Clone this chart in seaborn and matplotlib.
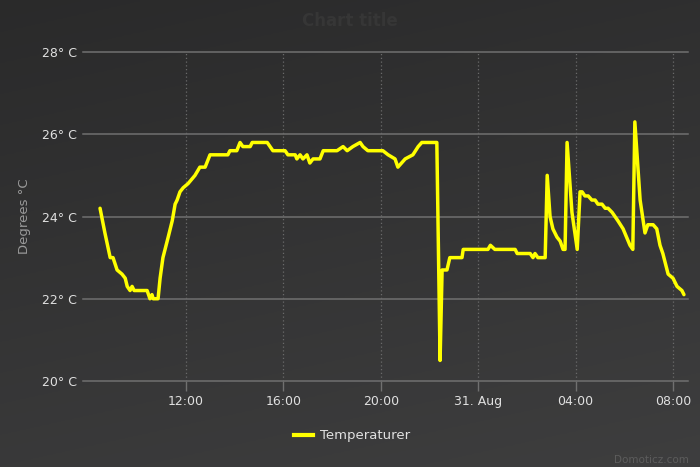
import numpy as np
import pandas as pd
import matplotlib
matplotlib.use("Agg")
import matplotlib.pyplot as plt
import seaborn as sns
from matplotlib.lines import Line2D

# ---------------- data ----------------
times = [
    "2024-08-30 08:28", "2024-08-30 08:40", "2024-08-30 08:53", "2024-08-30 09:00",
    "2024-08-30 09:10", "2024-08-30 09:22", "2024-08-30 09:30", "2024-08-30 09:35",
    "2024-08-30 09:42", "2024-08-30 09:47", "2024-08-30 09:52", "2024-08-30 10:24",
    "2024-08-30 10:31", "2024-08-30 10:36", "2024-08-30 10:39", "2024-08-30 10:51",
    "2024-08-30 10:56", "2024-08-30 11:03", "2024-08-30 11:16", "2024-08-30 11:26",
    "2024-08-30 11:33", "2024-08-30 11:38", "2024-08-30 11:45", "2024-08-30 11:53",
    "2024-08-30 12:05", "2024-08-30 12:22", "2024-08-30 12:34", "2024-08-30 12:47",
    "2024-08-30 12:59", "2024-08-30 13:43", "2024-08-30 13:48", "2024-08-30 14:05",
    "2024-08-30 14:13", "2024-08-30 14:20", "2024-08-30 14:38", "2024-08-30 14:43",
    "2024-08-30 15:20", "2024-08-30 15:27", "2024-08-30 15:34", "2024-08-30 16:04",
    "2024-08-30 16:11", "2024-08-30 16:29", "2024-08-30 16:33", "2024-08-30 16:41",
    "2024-08-30 16:48", "2024-08-30 16:58", "2024-08-30 17:05", "2024-08-30 17:13",
    "2024-08-30 17:30", "2024-08-30 17:38", "2024-08-30 18:12", "2024-08-30 18:27",
    "2024-08-30 18:37", "2024-08-30 18:51", "2024-08-30 19:09", "2024-08-30 19:16",
    "2024-08-30 19:28", "2024-08-30 20:05", "2024-08-30 20:18", "2024-08-30 20:35",
    "2024-08-30 20:42", "2024-08-30 21:00", "2024-08-30 21:19", "2024-08-30 21:32",
    "2024-08-30 21:41", "2024-08-30 22:18", "2024-08-30 22:26", "2024-08-30 22:31",
    "2024-08-30 22:43", "2024-08-30 22:50", "2024-08-30 23:20", "2024-08-30 23:23",
    "2024-08-31 00:24", "2024-08-31 00:30", "2024-08-31 00:41", "2024-08-31 01:31",
    "2024-08-31 01:36", "2024-08-31 02:08", "2024-08-31 02:15", "2024-08-31 02:20",
    "2024-08-31 02:27", "2024-08-31 02:45", "2024-08-31 02:50", "2024-08-31 02:57",
    "2024-08-31 03:04", "2024-08-31 03:14", "2024-08-31 03:22", "2024-08-31 03:29",
    "2024-08-31 03:34", "2024-08-31 03:39", "2024-08-31 03:51", "2024-08-31 04:04",
    "2024-08-31 04:11", "2024-08-31 04:16", "2024-08-31 04:23", "2024-08-31 04:31",
    "2024-08-31 04:40", "2024-08-31 04:48", "2024-08-31 04:55", "2024-08-31 05:05",
    "2024-08-31 05:13", "2024-08-31 05:20", "2024-08-31 05:30", "2024-08-31 05:44",
    "2024-08-31 05:57", "2024-08-31 06:14", "2024-08-31 06:21", "2024-08-31 06:26",
    "2024-08-31 06:39", "2024-08-31 06:51", "2024-08-31 06:58", "2024-08-31 07:11",
    "2024-08-31 07:20", "2024-08-31 07:28", "2024-08-31 07:35", "2024-08-31 07:48",
    "2024-08-31 08:00", "2024-08-31 08:10", "2024-08-31 08:22", "2024-08-31 08:27",
]
temps = [
    24.2, 23.6, 23.0, 23.0,
    22.7, 22.6, 22.5, 22.3,
    22.2, 22.3, 22.2, 22.2,
    22.0, 22.1, 22.0, 22.0,
    22.5, 23.0, 23.5, 23.9,
    24.3, 24.4, 24.6, 24.7,
    24.8, 25.0, 25.2, 25.2,
    25.5, 25.5, 25.6, 25.6,
    25.8, 25.7, 25.7, 25.8,
    25.8, 25.7, 25.6, 25.6,
    25.5, 25.5, 25.4, 25.5,
    25.4, 25.5, 25.3, 25.4,
    25.4, 25.6, 25.6, 25.7,
    25.6, 25.7, 25.8, 25.7,
    25.6, 25.6, 25.5, 25.4,
    25.2, 25.4, 25.5, 25.7,
    25.8, 25.8, 20.5, 22.7,
    22.7, 23.0, 23.0, 23.2,
    23.2, 23.3, 23.2, 23.2,
    23.1, 23.1, 23.0, 23.1,
    23.0, 23.0, 25.0, 24.0,
    23.7, 23.5, 23.4, 23.2,
    23.2, 25.8, 24.1, 23.2,
    24.6, 24.6, 24.5, 24.5,
    24.4, 24.4, 24.3, 24.3,
    24.2, 24.2, 24.1, 23.9,
    23.7, 23.3, 23.2, 26.3,
    24.4, 23.6, 23.8, 23.8,
    23.7, 23.3, 23.1, 22.6,
    22.5, 22.3, 22.2, 22.1,
]
series_name = "Temperaturer"
tick_times = ["2024-08-30 12:00", "2024-08-30 16:00", "2024-08-30 20:00",
              "2024-08-31 00:00", "2024-08-31 04:00", "2024-08-31 08:00"]
tick_labels = ["12:00", "16:00", "20:00", "31. Aug", "04:00", "08:00"]
y_ticks = [20, 22, 24, 26, 28]
y_tick_labels = ["20° C", "22° C", "24° C", "26° C", "28° C"]

df = pd.DataFrame({"time": pd.to_datetime(times), "temp": temps})

# ---------------- figure ----------------
W, H = 700, 467
fig = plt.figure(figsize=(W / 100, H / 100), dpi=100)

# gradient background
bg = fig.add_axes([0, 0, 1, 1], zorder=-10)
v = np.linspace(0, 1, 200)[:, None]
h = np.linspace(0, 1, 300)[None, :]
val = (42 + 15 * v + 5 * h) / 255.0
rgb = np.dstack([val, val, val * 1.01])
bg.imshow(np.clip(rgb, 0, 1), aspect="auto", extent=[0, 1, 0, 1], origin="upper")
bg.axis("off")

ax = fig.add_axes([83 / W, 1 - 381 / H, (688 - 83) / W, 329 / H])
ax.set_facecolor("none")

sns.lineplot(data=df, x="time", y="temp", ax=ax, color="#ffff00",
             linewidth=2.5, legend=False, zorder=5)
for ln in ax.get_lines():
    ln.set_solid_joinstyle("round")
    ln.set_solid_capstyle("round")

ax.set_ylim(20, 28)
ax.set_xlim(pd.Timestamp("2024-08-30 07:46"), pd.Timestamp("2024-08-31 08:37"))

ax.set_yticks(y_ticks)
ax.set_yticklabels(y_tick_labels)
ax.set_xticks(pd.to_datetime(tick_times))
ax.set_xticklabels(tick_labels)

for s in ax.spines.values():
    s.set_visible(False)

# horizontal gridlines
for yv in y_ticks:
    ax.axhline(yv, color="#707070", lw=1.1, zorder=1, clip_on=False)
# vertical dotted gridlines
for t in pd.to_datetime(tick_times):
    ax.axvline(t, color="#6a6a6a", lw=0.9, ls=(0, (1, 2)), zorder=1)

ax.tick_params(axis="y", length=0, pad=4.5, labelsize=9, labelcolor="#e0e0e0")
ax.tick_params(axis="x", length=7, width=1, color="#707070", pad=3,
               labelsize=9, labelcolor="#e0e0e0")
ax.set_xlabel("")
ax.set_ylabel("")

fig.text(25 / W, 1 - 216 / H, "Degrees °C", rotation=90, ha="center", va="center",
         fontsize=9.5, color="#9a9a9a")

fig.text(0.5, 1 - 21 / H, "Chart title", ha="center", va="center",
         fontsize=12, fontweight="bold", color="#363636")

fig.text(689 / W, 1 - 460 / H, "Domoticz.com", ha="right", va="center",
         fontsize=7.5, color="#5c5c5c")

handle = Line2D([0], [0], color="#ffff00", lw=3)
fig.legend([handle], [series_name], loc="center",
           bbox_to_anchor=(352 / W, 1 - 436 / H), frameon=False,
           fontsize=9.5, handlelength=1.45, handletextpad=0.5,
           labelcolor="#e0e0e0")

fig.savefig("out.png", dpi=100)
